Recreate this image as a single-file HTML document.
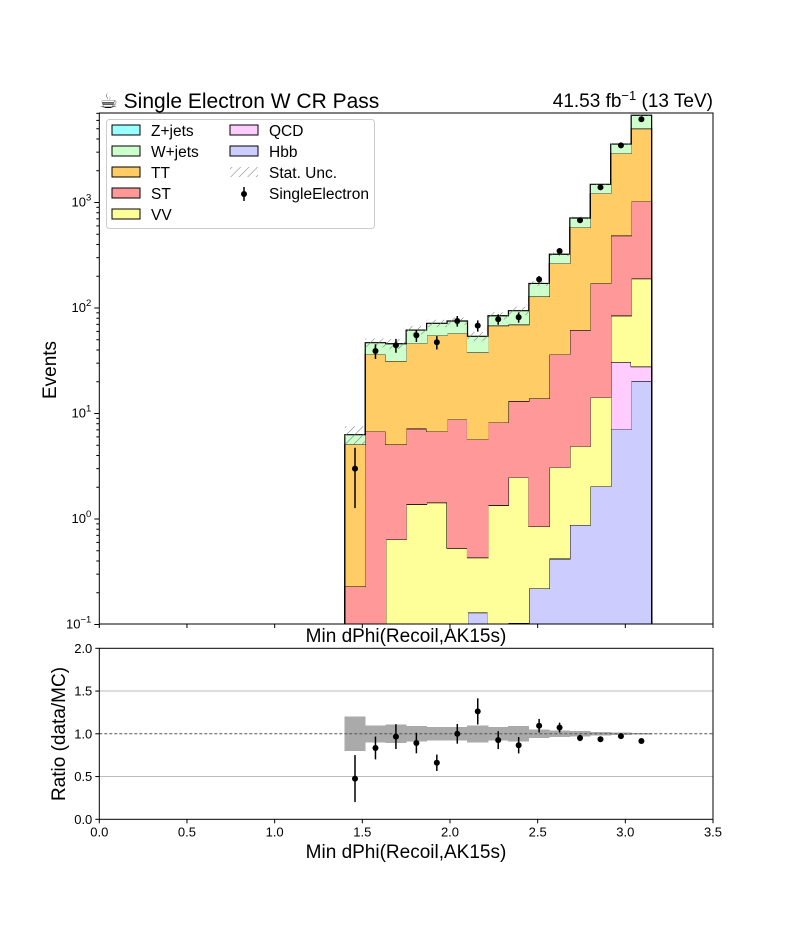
<!DOCTYPE html>
<html><head><meta charset="utf-8"><style>
body{margin:0;background:#fff;}
svg{display:block;font-family:"Liberation Sans","DejaVu Sans",sans-serif;}
</style></head><body>
<svg id="c" width="792" height="936" viewBox="0 0 792 936" xmlns="http://www.w3.org/2000/svg">
<defs><pattern id="hatch" width="6" height="6" patternUnits="userSpaceOnUse" patternTransform="rotate(45)"><line x1="0" y1="0" x2="0" y2="6" stroke="#777" stroke-width="1"/></pattern></defs>
</svg>
<script>
const edges0 = 1.4, binW = 1.75/15;
const hbb = [0,0,0,0,0,0,0.13,0,0.103,0.22,0.42,0.88,2.04,7.08,20.3];
const qcd = [0,0,0,0,0,0,0,0,0,0,0,0,0,23.7,7.5];
const vv = [0,0,0.64,1.38,1.43,0.53,0.30,1.35,2.38,0.63,2.67,4.01,12.2,53.7,162];
const st = [0.23,6.78,4.46,5.79,5.35,8.28,5.26,6.91,10.6,13.05,33.3,56.9,157,400,836];
const tt = [4.87,29.6,26.4,39.1,48.3,48.8,32.3,59.7,56.4,115,229,520,1051,2443,3985];
const wjets = [1.2,10.5,14.3,15.5,16.5,17.7,15.9,16.5,24.8,42,58,131,265,654,1703];
const zjets = [0,0,0,0,0,0,0,0,0,0,0,0,0,0,0];
const dataVals = [3,39.1,44.3,55.1,47.3,75.3,68,78.2,81.7,187,347,678,1393,3483,6150];
const statUnc = [0.2,0.1,0.11,0.09,0.08,0.08,0.1,0.08,0.09,0.05,0.04,0.03,0.02,0.015,0.01];
const xTicks = [0,0.5,1.0,1.5,2.0,2.5,3.0,3.5];
const xTickLabels = ["0.0","0.5","1.0","1.5","2.0","2.5","3.0","3.5"];
const rTicks = [0,0.5,1.0,1.5,2.0];
const rTickLabels = ["0.0","0.5","1.0","1.5","2.0"];

const NS="http://www.w3.org/2000/svg", svg=document.getElementById('c');
const L=99.3,R=713,T=113,B=624,RT=648.3,RB=819.3;
const X=v=>L+(v/3.5)*(R-L);
const Y=v=>519-105.5*Math.log10(Math.max(v,1e-3));
const YR=v=>RB-(v/2)*(RB-RT);
function el(tag,attrs,parent){const e=document.createElementNS(NS,tag);for(const k in attrs)e.setAttribute(k,attrs[k]);(parent||svg).appendChild(e);return e;}
function txt(s,attrs){const e=el('text',attrs);e.textContent=s;return e;}
const main=el('g',{'clip-path':'url(#mc)'});
const cp=el('clipPath',{id:'mc'},svg.querySelector('defs'));el('rect',{x:L,y:T,width:R-L,height:B-T},cp);



const procs=[['hbb',hbb,'#ccccff'],['qcd',qcd,'#ffccff'],['vv',vv,'#ffff99'],['st',st,'#ff9999'],['tt',tt,'#ffcc66'],['wjets',wjets,'#ccffcc'],['zjets',zjets,'#99ffff']];
const n=hbb.length;let cum=new Array(n).fill(0);
const tot=[];
procs.forEach(([name,vals,col])=>{
  const top=cum.map((c,i)=>c+vals[i]);
  for(let i=0;i<n;i++){
    if(vals[i]<=0)continue;
    const x0=X(edges0+i*binW),x1=X(edges0+(i+1)*binW);
    const y0=Math.min(Y(Math.max(cum[i],0.01)),B+5),y1=Y(top[i]);
    const r=el('rect',{x:x0-0.3,y:y1,width:x1-x0+0.6,height:Math.max(0,y0-y1),fill:col,'shape-rendering':'crispEdges'},main);
    
    
  }
  let p='';
  for(let i=0;i<n;i++){const x0=X(edges0+i*binW),x1=X(edges0+(i+1)*binW),y=Math.min(Y(top[i]),B+5);p+=(i==0?'M'+x0+','+(B+5)+'L':'L')+x0+','+y+'L'+x1+','+y;}
  p+='L'+X(edges0+n*binW)+','+(B+5);
  if(vals.some(v=>v>0)){const o=el('path',{d:p,fill:'none',stroke:'#000','stroke-width':1.2},main);}
  cum=top;
});
for(let i=0;i<n;i++)tot.push(cum[i]);
for(let i=0;i<n;i++){const x0=X(edges0+i*binW),x1=X(edges0+(i+1)*binW);
  const h=el('rect',{x:x0,y:Y(tot[i]*(1+statUnc[i])),width:x1-x0,height:Y(tot[i]*(1-statUnc[i]))-Y(tot[i]*(1+statUnc[i])),fill:'url(#hatch)'},main);
  }
for(let i=0;i<n;i++){const xc=X(edges0+(i+0.5)*binW),v=dataVals[i],e=Math.sqrt(v);
  const l=el('line',{x1:xc,x2:xc,y1:Y(v+e),y2:Y(Math.max(v-e,0.01)),stroke:'#000','stroke-width':1.5},main);
  
  const c=el('circle',{cx:xc,cy:Y(v),r:3,fill:'#000'},main);
  }
el('rect',{x:L,y:T,width:R-L,height:B-T,fill:'none',stroke:'#000','stroke-width':1});
for(let d=-1;d<=3;d++){const y=Y(Math.pow(10,d));el('line',{x1:L-5,x2:L,y1:y,y2:y,stroke:'#000'});
  const t=txt('',{x:L-8,y:y+4,'text-anchor':'end','font-size':13});t.innerHTML='10<tspan dy="-6" font-size="9.5">'+(d<0?'−1':d)+'</tspan>';
  }
for(let d=-1;d<=3;d++)for(let m=2;m<=9;m++){const y=Y(m*Math.pow(10,d));if(y<T)continue;el('line',{x1:L-3,x2:L,y1:y,y2:y,stroke:'#000'});}
xTicks.forEach(v=>{el('line',{x1:X(v),x2:X(v),y1:B,y2:B+4,stroke:'#000'});});
let t=txt('Min dPhi(Recoil,AK15s)',{x:406,y:642,'text-anchor':'middle','font-size':19});
t=txt('Events',{x:56,y:370,'text-anchor':'middle','font-size':19,transform:'rotate(-90 56 370)'});
t=txt('☕ Single Electron W CR Pass',{x:99,y:108,'font-size':21});
t=txt('',{x:713,y:107,'text-anchor':'end','font-size':19});t.innerHTML='41.53 fb<tspan dy="-7" font-size="13">−1</tspan><tspan dy="7"> (13 TeV)</tspan>';
const lg=el('g',{});
el('rect',{x:106.5,y:119.5,width:268,height:109,rx:3,fill:'#fff',stroke:'#ccc'},lg);
const le=[['Z+jets','#99ffff',0,0],['W+jets','#ccffcc',0,1],['TT','#ffcc66',0,2],['ST','#ff9999',0,3],['VV','#ffff99',0,4],['QCD','#ffccff',1,0],['Hbb','#ccccff',1,1]];
le.forEach(([s,c,col,row])=>{const x=col?230:112,y=125+row*21;
  const g=el('g',{},lg);
  el('rect',{x:x,y:y,width:28,height:10,fill:c,stroke:'#000'},g);
  const tt2=el('text',{x:x+39,y:y+11,'font-size':15.5},g);tt2.textContent=s;});
{const g=el('g',{},lg);
el('rect',{x:230,y:167,width:28,height:10,fill:'url(#hatch)'},g);const a=el('text',{x:269,y:178,'font-size':15.5},g);a.textContent='Stat. Unc.';
const g2=el('g',{},lg);
el('line',{x1:244,x2:244,y1:187,y2:201,stroke:'#000','stroke-width':1.5},g2);el('circle',{cx:244,cy:194,r:3},g2);
const b=el('text',{x:269,y:199,'font-size':15.5},g2);b.textContent='SingleElectron';}
const rg=el('g',{});
[0.5,1.5].forEach(v=>el('line',{x1:L,x2:R,y1:YR(v),y2:YR(v),stroke:'#bbb'},rg));
for(let i=0;i<n;i++){const x0=X(edges0+i*binW),x1=X(edges0+(i+1)*binW);
  const r=el('rect',{x:x0-0.3,y:YR(1+statUnc[i]),width:x1-x0+0.6,height:YR(1-statUnc[i])-YR(1+statUnc[i]),fill:'#aaa','shape-rendering':'crispEdges'},rg);
  }
el('line',{x1:L,x2:R,y1:YR(1),y2:YR(1),stroke:'#555','stroke-dasharray':'3,2'},rg);
for(let i=0;i<n;i++){const xc=X(edges0+(i+0.5)*binW),r=dataVals[i]/tot[i],e=Math.sqrt(dataVals[i])/tot[i];
  const l=el('line',{x1:xc,x2:xc,y1:YR(Math.min(r+e,2)),y2:YR(Math.max(r-e,0)),stroke:'#000','stroke-width':1.5},rg);
  
  const c=el('circle',{cx:xc,cy:YR(r),r:3,fill:'#000'},rg);}
el('rect',{x:L,y:RT,width:R-L,height:RB-RT,fill:'none',stroke:'#000'});
rTicks.forEach((v,i)=>{el('line',{x1:L-4,x2:L,y1:YR(v),y2:YR(v),stroke:'#000'});
  const a=txt(rTickLabels[i],{x:L-7,y:YR(v)+4.5,'text-anchor':'end','font-size':13});});
xTicks.forEach((v,i)=>{el('line',{x1:X(v),x2:X(v),y1:RB,y2:RB+4,stroke:'#000'});
  const a=txt(xTickLabels[i],{x:X(v),y:RB+17,'text-anchor':'middle','font-size':13});});
t=txt('Min dPhi(Recoil,AK15s)',{x:406,y:858,'text-anchor':'middle','font-size':19});
t=txt('Ratio (data/MC)',{x:65,y:734,'text-anchor':'middle','font-size':19,transform:'rotate(-90 65 734)'});
</script>
</body></html>
